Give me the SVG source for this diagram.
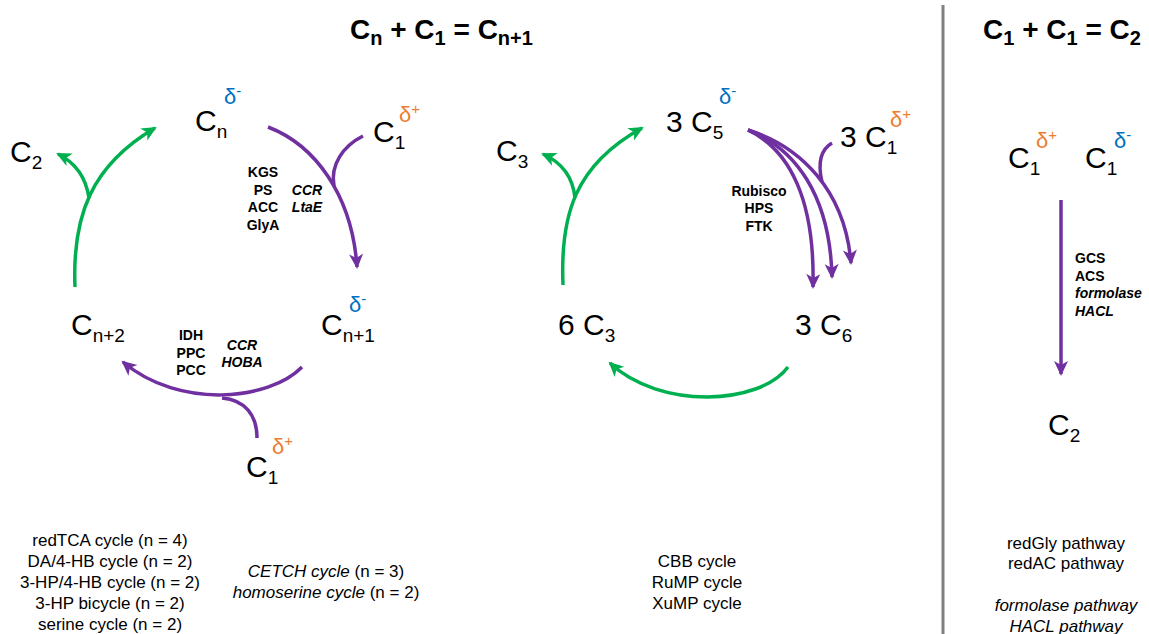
<svg xmlns="http://www.w3.org/2000/svg" width="1149" height="634" viewBox="0 0 1149 634">
<style>
text{font-family:"Liberation Sans",Arial,sans-serif;fill:#000}
.lb{font-size:30px}
.sb{font-size:19px}
.dn{fill:#0070c0;font-size:22px}
.dp{fill:#ed7d31;font-size:22px}
.sg{font-size:15px}
.title{font-size:28px;font-weight:bold}
.ts{font-size:20px}
.enz{font-size:14px;font-weight:bold;text-anchor:middle}
.enzl{font-size:14px;font-weight:bold}
.it{font-style:italic}
.bt{font-size:17px;text-anchor:middle}
.g{fill:none;stroke:#00b050;stroke-width:3.5}
.p{fill:none;stroke:#7030a0;stroke-width:3.5}
</style>
<defs>
<marker id="ag" markerUnits="userSpaceOnUse" markerWidth="18" markerHeight="18" viewBox="0 0 18 18" refX="14" refY="9" orient="auto">
<path d="M1,2 L16,9 L1,16 L5,9 Z" fill="#00b050"/>
</marker>
<marker id="ap" markerUnits="userSpaceOnUse" markerWidth="18" markerHeight="18" viewBox="0 0 18 18" refX="14" refY="9" orient="auto">
<path d="M1,2 L16,9 L1,16 L5,9 Z" fill="#7030a0"/>
</marker>
</defs>
<rect width="1149" height="634" fill="#fff"/>

<g id="titles">
<text class="title" x="350" y="39">C<tspan class="ts" dy="6">n</tspan><tspan dy="-6"> + C</tspan><tspan class="ts" dy="6">1</tspan><tspan dy="-6"> = C</tspan><tspan class="ts" dy="6">n+1</tspan></text>
<text class="title" x="983" y="39">C<tspan class="ts" dy="6">1</tspan><tspan dy="-6"> + C</tspan><tspan class="ts" dy="6">1</tspan><tspan dy="-6"> = C</tspan><tspan class="ts" dy="6">2</tspan></text>
</g>
<line x1="943" y1="5" x2="943" y2="634" stroke="#808080" stroke-width="3"/>

<g id="connectors">
<path class="g" d="M75,287 C72,215 92,165 155,128" marker-end="url(#ag)"/>
<path class="g" d="M89,198 C86,178 76,163 58,154" marker-end="url(#ag)"/>
<path class="p" d="M268,127 C315,145 352,195 357,267" marker-end="url(#ap)"/>
<path class="p" d="M363,136 C343,146 330,165 334,186"/>
<path class="p" d="M302,367 C270,400 180,410 123,362" marker-end="url(#ap)"/>
<path class="p" d="M257,438 C257,415 245,400 222,398"/>
<path class="g" d="M563,285 C560,215 575,165 642,128" marker-end="url(#ag)"/>
<path class="g" d="M575,198 C573,178 563,163 543,154" marker-end="url(#ag)"/>
<path class="g" d="M788,367 C760,405 660,410 610,363" marker-end="url(#ag)"/>
<path class="p" d="M748,130 C790,150 815,200 813,287" marker-end="url(#ap)"/>
<path class="p" d="M748,130 C795,148 830,195 832,277" marker-end="url(#ap)"/>
<path class="p" d="M748,130 C800,146 845,190 851,263" marker-end="url(#ap)"/>
<path class="p" d="M832,143 C820,150 818,165 822,182"/>
<path class="p" d="M1061,200 L1061,374" marker-end="url(#ap)"/>
</g>

<g id="Cn"><text class="lb" x="195" y="131">C<tspan class="sb" dy="7">n</tspan></text>
<text class="dn" x="224" y="104">δ<tspan class="sg" dy="-8">-</tspan></text></g>
<g id="C2left"><text class="lb" x="10" y="162">C<tspan class="sb" dy="7">2</tspan></text></g>
<g id="C1top"><text class="lb" x="373" y="142">C<tspan class="sb" dy="7">1</tspan></text>
<text class="dp" x="399" y="122">δ<tspan class="sg" dy="-8">+</tspan></text></g>
<g id="Cn1"><text class="lb" x="321" y="335">C<tspan class="sb" dy="7">n+1</tspan></text>
<text class="dn" x="349" y="312">δ<tspan class="sg" dy="-8">-</tspan></text></g>
<g id="Cn2"><text class="lb" x="71" y="335">C<tspan class="sb" dy="7">n+2</tspan></text></g>
<g id="C1bottom"><text class="lb" x="246" y="477">C<tspan class="sb" dy="7">1</tspan></text>
<text class="dp" x="272" y="454">δ<tspan class="sg" dy="-8">+</tspan></text></g>

<g id="enz1"><text class="enz" x="263" y="177">KGS</text><text class="enz" x="263" y="195">PS</text><text class="enz" x="263" y="212">ACC</text><text class="enz" x="263" y="230">GlyA</text>
<text class="enz it" x="307" y="195">CCR</text><text class="enz it" x="307" y="212">LtaE</text></g>
<g id="enz2"><text class="enz" x="191" y="340">IDH</text><text class="enz" x="191" y="358">PPC</text><text class="enz" x="191" y="375">PCC</text>
<text class="enz it" x="242" y="350">CCR</text><text class="enz it" x="242" y="367">HOBA</text></g>

<g id="C5"><text class="lb" x="666" y="132">3 C<tspan class="sb" dy="7">5</tspan></text>
<text class="dn" x="719" y="104">δ<tspan class="sg" dy="-8">-</tspan></text></g>
<g id="C3"><text class="lb" x="496" y="161">C<tspan class="sb" dy="7">3</tspan></text></g>
<g id="C1mid"><text class="lb" x="840" y="147">3 C<tspan class="sb" dy="7">1</tspan></text>
<text class="dp" x="890" y="127">δ<tspan class="sg" dy="-8">+</tspan></text></g>
<g id="C3six"><text class="lb" x="558" y="335">6 C<tspan class="sb" dy="7">3</tspan></text></g>
<g id="C6"><text class="lb" x="795" y="335">3 C<tspan class="sb" dy="7">6</tspan></text></g>
<g id="enz3"><text class="enz" x="759" y="196">Rubisco</text><text class="enz" x="759" y="213">HPS</text><text class="enz" x="759" y="231">FTK</text></g>

<g id="C1a"><text class="lb" x="1008" y="168">C<tspan class="sb" dy="7">1</tspan></text>
<text class="dp" x="1036" y="148">δ<tspan class="sg" dy="-8">+</tspan></text></g>
<g id="C1b"><text class="lb" x="1085" y="168">C<tspan class="sb" dy="7">1</tspan></text>
<text class="dn" x="1114" y="148">δ<tspan class="sg" dy="-8">-</tspan></text></g>
<g id="C2right"><text class="lb" x="1048" y="435">C<tspan class="sb" dy="7">2</tspan></text></g>
<g id="enz4"><text class="enzl" x="1075" y="263">GCS</text><text class="enzl" x="1075" y="281">ACS</text><text class="enzl it" x="1075" y="298">formolase</text><text class="enzl it" x="1075" y="316">HACL</text></g>

<g id="list1"><text class="bt" x="110" y="546">redTCA cycle (n = 4)</text><text class="bt" x="110" y="567">DA/4-HB cycle (n = 2)</text><text class="bt" x="110" y="588">3-HP/4-HB cycle (n = 2)</text><text class="bt" x="110" y="609">3-HP bicycle (n = 2)</text><text class="bt" x="110" y="630">serine cycle (n = 2)</text></g>
<g id="list2"><text class="bt" x="326" y="577"><tspan class="it">CETCH cycle</tspan> (n = 3)</text><text class="bt" x="326" y="598"><tspan class="it">homoserine cycle</tspan> (n = 2)</text></g>
<g id="list3"><text class="bt" x="697" y="567">CBB cycle</text><text class="bt" x="697" y="588">RuMP cycle</text><text class="bt" x="697" y="609">XuMP cycle</text></g>
<g id="list4"><text class="bt" x="1066" y="549">redGly pathway</text><text class="bt" x="1066" y="569">redAC pathway</text><text class="bt it" x="1066" y="611">formolase pathway</text><text class="bt it" x="1066" y="632">HACL pathway</text></g>
</svg>
